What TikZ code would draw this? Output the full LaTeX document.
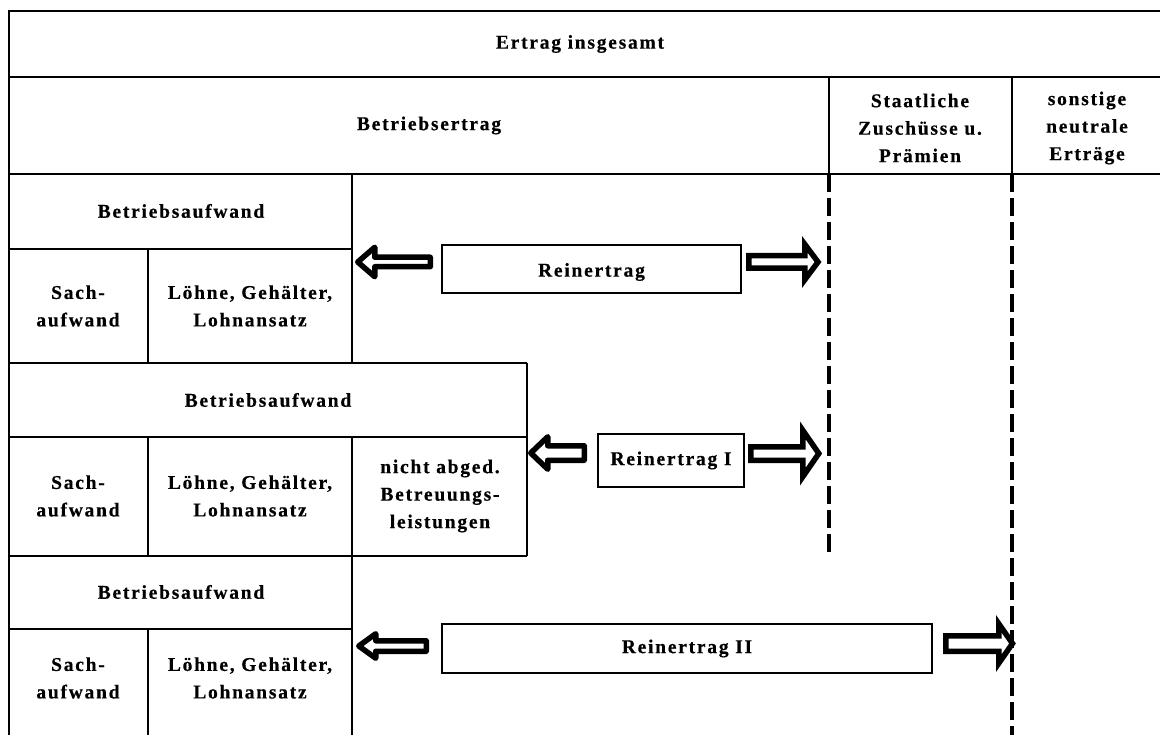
\documentclass[tikz,border=0pt]{standalone}
\usepackage{fontspec}
\setmainfont{Liberation Serif}[LetterSpace=9, BoldFeatures={FakeBold=0.5}]
\newcommand\blockarrow[7][]{% tail x, base x, tip x, centre y, half shaft, half head
  \draw[fatarrow,#1] (#2,#5-#6) -- (#3,#5-#6) -- (#3,#5-#7) -- (#4,#5)
    -- (#3,#5+#7) -- (#3,#5+#6) -- (#2,#5+#6) -- cycle;}
\tikzset{
  lbl/.style={font=\bfseries\fontsize{19.5}{27.5}\selectfont, align=center, inner sep=0pt},
  frame/.style={line width=2.5pt},
  grid/.style={line width=2pt},
  cutline/.style={line width=4pt, dash pattern=on 18pt off 6pt},
  rbox/.style={draw, line width=2pt, fill=white},
  fatarrow/.style={draw=black, fill=white, line width=5.5pt},
  leftarrow/.style={line join=round},
  rightarrow/.style={line join=miter},
}
\begin{document}
\begin{tikzpicture}[x=1pt,y=-1pt]
\useasboundingbox (0,0) rectangle (1160,735);

% top rows
\draw[frame] (1160,11) -- (9,11) -- (9,735);
\draw[frame] (9,77) -- (1160,77);
\draw[frame] (9,174) -- (1160,174);
\draw[grid] (829,77) -- (829,174);
\draw[grid] (1012,77) -- (1012,174);

% dashed boundaries
\draw[cutline] (829,174) -- (829,556);
\draw[cutline] (1012,174) -- (1012,735);

% first expense block
\draw[grid] (352,174) -- (352,363);
\draw[grid] (9,249) -- (352,249);
\draw[grid] (148,249) -- (148,363);
\draw[grid] (9,363) -- (527,363);

% second expense block
\draw[grid] (527,363) -- (527,556);
\draw[grid] (9,437) -- (527,437);
\draw[grid] (148,437) -- (148,556);
\draw[grid] (352,437) -- (352,556);
\draw[grid] (9,556) -- (527,556);

% third expense block
\draw[grid] (352,556) -- (352,735);
\draw[grid] (9,629) -- (352,629);
\draw[grid] (148,629) -- (148,735);

% headings
\node[lbl] (ges) at (580,44) {Ertrag insgesamt};
\node[lbl] (be) at (429,125.5) {Betriebsertrag};
\node[lbl] (sz) at (920,128) {Staatliche\\Zuschüsse u.\\Prämien};
\node[lbl] (sn) at (1087,128) {sonstige\\neutrale\\Erträge};

% block 1 labels
\node[lbl] (ba1) at (181,211) {Betriebsaufwand};
\node[lbl] (sa1) at (78,306) {Sach-\\aufwand};
\node[lbl] (lg1) at (250,306) {Löhne, Gehälter,\\Lohnansatz};

% block 2 labels
\node[lbl] (ba2) at (268,400) {Betriebsaufwand};
\node[lbl] (sa2) at (78,496) {Sach-\\aufwand};
\node[lbl] (lg2) at (250,496) {Löhne, Gehälter,\\Lohnansatz};
\node[lbl] (nb2) at (440,496) {nicht abged.\\Betreuungs-\\leistungen};

% block 3 labels
\node[lbl] (ba3) at (181,592) {Betriebsaufwand};
\node[lbl] (sa3) at (78,678) {Sach-\\aufwand};
\node[lbl] (lg3) at (250,678) {Löhne, Gehälter,\\Lohnansatz};

% net yield boxes
\node[rbox, minimum width=299pt, minimum height=48pt] (r0) at (591.5,269) {};
\node[lbl] (r0t) at ([yshift=-3pt]r0.center) {Reinertrag};
\node[rbox, lbl, minimum width=146pt, minimum height=53pt] (r1) at (671,460.5) {Reinertrag I};
\node[rbox, lbl, minimum width=490pt, minimum height=49pt] (r2) at (687,648.5) {Reinertrag II};

% block arrows
\blockarrow[leftarrow]{430.25}{374.75}{357.75}{262}{4.75}{14.75}
\blockarrow[rightarrow]{748.75}{804.75}{818}{262}{6.25}{17.75}
\blockarrow[leftarrow]{584.25}{547.75}{530.75}{453}{7.25}{16.25}
\blockarrow[rightarrow]{750.75}{802.75}{818.8}{453.5}{6.75}{23.25}
\blockarrow[leftarrow]{426.25}{375.75}{358.75}{646}{5.25}{12.25}
\blockarrow[rightarrow]{945.75}{998.75}{1012.5}{643.5}{7.75}{19.75}
\end{tikzpicture}
\end{document}
